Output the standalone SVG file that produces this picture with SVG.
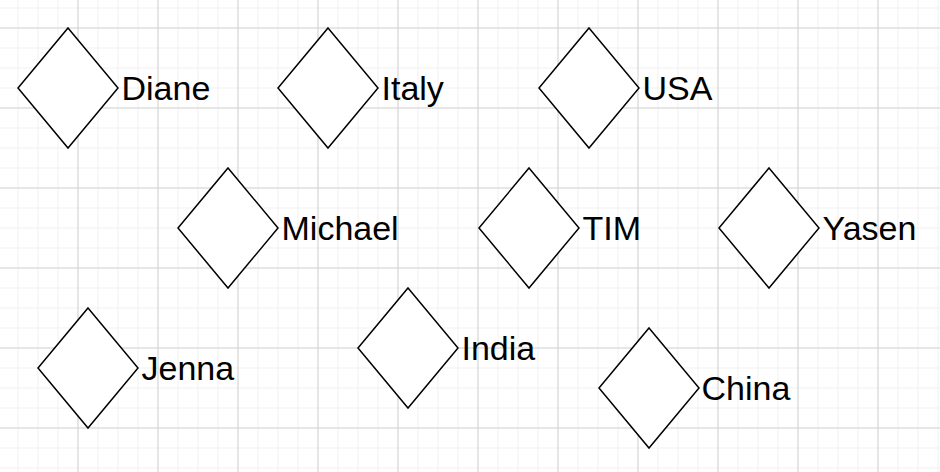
<svg xmlns="http://www.w3.org/2000/svg" width="940" height="472" viewBox="0 0 940 472">
  <defs>
    <pattern id="minor" width="20" height="20" patternUnits="userSpaceOnUse" x="-2.5" y="7.5">
      <path d="M0.5 0 V20 M0 0.5 H20" fill="none" stroke="#f0f0f0" stroke-width="1"/>
    </pattern>
    <pattern id="major" width="80" height="80" patternUnits="userSpaceOnUse" x="-2.5" y="27.5">
      <path d="M0.5 0 V80 M0 0.5 H80" fill="none" stroke="#d3d3d3" stroke-width="1"/>
    </pattern>
    <style>
      .d { fill: #ffffff; stroke: #000000; stroke-width: 1.5; stroke-linejoin: miter; }
      .t { font-family: "Liberation Sans", Arial, sans-serif; font-size: 34px; fill: #000000; }
    </style>
  </defs>
  <rect x="0" y="0" width="940" height="472" fill="#ffffff"/>
  <rect x="0" y="0" width="940" height="472" fill="url(#minor)"/>
  <rect x="0" y="0" width="940" height="472" fill="url(#major)"/>
  <g id="connectors"></g>
  <g id="node-diane">
    <polygon class="d" points="68,28 118,88 68,148 18,88"/>
    <text class="t" x="121.5" y="100">Diane</text>
  </g>
  <g id="node-italy">
    <polygon class="d" points="328,28 378,88 328,148 278,88"/>
    <text class="t" x="381.5" y="100">Italy</text>
  </g>
  <g id="node-usa">
    <polygon class="d" points="589,28 639,88 589,148 539,88"/>
    <text class="t" x="642.5" y="100">USA</text>
  </g>
  <g id="node-michael">
    <polygon class="d" points="228,168 278,228 228,288 178,228"/>
    <text class="t" x="281.5" y="240">Michael</text>
  </g>
  <g id="node-tim">
    <polygon class="d" points="529,168 579,228 529,288 479,228"/>
    <text class="t" x="582.5" y="240">TIM</text>
  </g>
  <g id="node-yasen">
    <polygon class="d" points="769,168 819,228 769,288 719,228"/>
    <text class="t" x="822.5" y="240">Yasen</text>
  </g>
  <g id="node-jenna">
    <polygon class="d" points="88,308 138,368 88,428 38,368"/>
    <text class="t" x="141.5" y="380">Jenna</text>
  </g>
  <g id="node-india">
    <polygon class="d" points="408,288 458,348 408,408 358,348"/>
    <text class="t" x="461.5" y="360">India</text>
  </g>
  <g id="node-china">
    <polygon class="d" points="649,328 699,388 649,448 599,388"/>
    <text class="t" x="701.5" y="400">China</text>
  </g>
</svg>
